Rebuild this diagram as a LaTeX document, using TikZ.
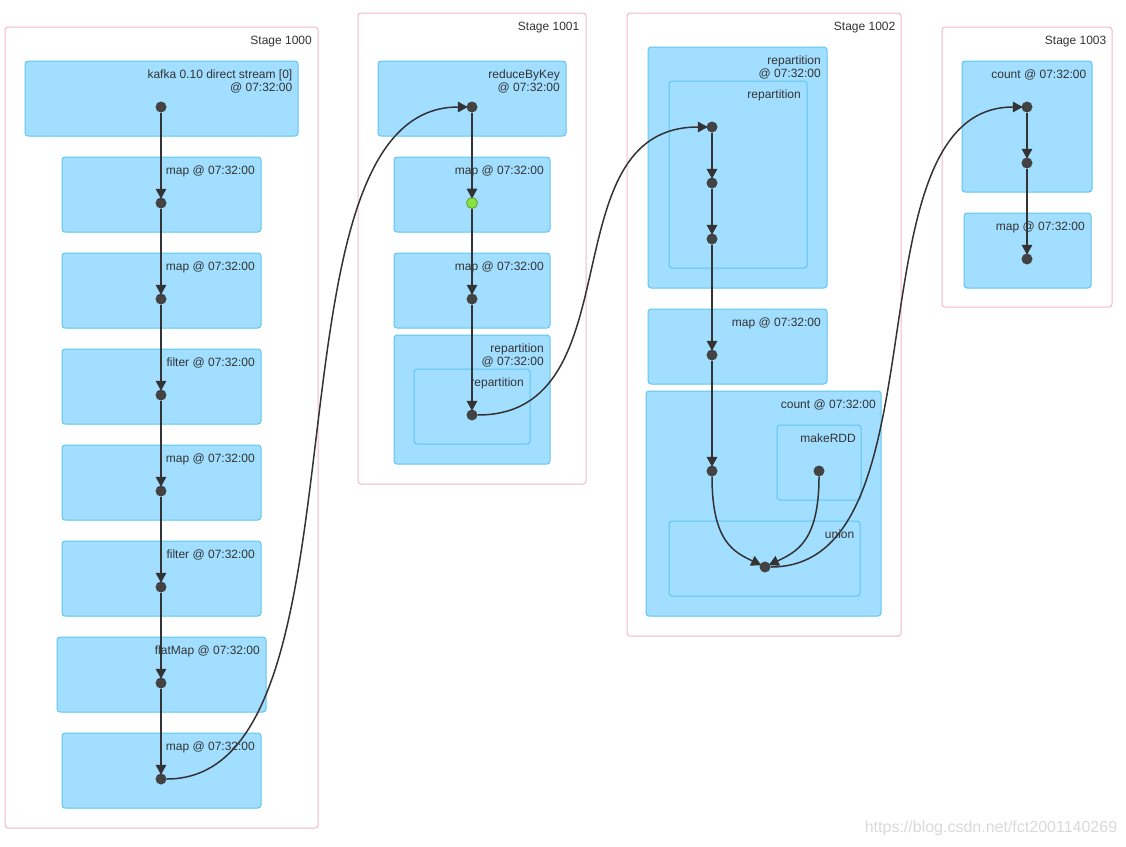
\documentclass[tikz,border=0pt]{standalone}
\usepackage{fontspec}
\setmainfont{Liberation Sans}
\usetikzlibrary{arrows.meta}
\definecolor{stagepink}{RGB}{242,184,206}
\definecolor{boxfill}{RGB}{161,222,255}
\definecolor{boxline}{RGB}{96,198,238}
\definecolor{ink}{RGB}{51,51,51}
\definecolor{dotgreen}{RGB}{138,226,66}
\begin{document}
\begin{tikzpicture}[x=1pt,y=-1pt,
    stagebox/.style={draw=stagepink, fill=white, line width=1pt, rounded corners=3pt},
    opbox/.style={draw=boxline, fill=boxfill, line width=1pt, rounded corners=3pt},
    lbl/.style={anchor=north east, inner sep=0pt, text=ink, align=right,
      font=\fontsize{12}{13}\selectfont},
    rdd/.style={circle, fill=ink!92!white, inner sep=0pt, minimum size=11pt},
    edge/.style={draw=ink, line width=1.5pt, shorten >=-1.5pt,
      -{Triangle[length=10pt,width=10.5pt]}}]
    \useasboundingbox (0,0) rectangle (1126,846);

    \draw[stagebox] (5,27) rectangle (318,828);
    \node (s0) at (312,36) [lbl] {Stage 1000};
    \draw[opbox] (25,61) rectangle (298,136); \node (l1) at (292.5,70) [lbl]
    {kafka 0.10 direct stream [0]\\@ 07:32:00};
    \draw[opbox] (62,157) rectangle (261,232); \node (l2) at (255,166) [lbl] {map @ 07:32:00};
    \draw[opbox] (62,253) rectangle (261,328); \node (l3) at (255,262) [lbl] {map @ 07:32:00};
    \draw[opbox] (62,349) rectangle (261,424); \node (l4) at (255,358) [lbl] {filter @ 07:32:00};
    \draw[opbox] (62,445) rectangle (261,520); \node (l5) at (255,454) [lbl] {map @ 07:32:00};
    \draw[opbox] (62,541) rectangle (261,616); \node (l6) at (255,550) [lbl] {filter @ 07:32:00};
    \draw[opbox] (57,637) rectangle (266,712); \node (l7) at (260,646) [lbl] {flatMap @ 07:32:00};
    \draw[opbox] (62,733) rectangle (261,808); \node (l8) at (255,742) [lbl] {map @ 07:32:00};

    \draw[stagebox] (358,13) rectangle (586,484);
    \node (s1) at (579.5,22) [lbl] {Stage 1001};
    \draw[opbox] (378,61) rectangle (566,136); \node (m1) at (560,70) [lbl]
    {reduceByKey\\@ 07:32:00};
    \draw[opbox] (394,157) rectangle (550,232); \node (m2) at (544,166) [lbl] {map @ 07:32:00};
    \draw[opbox] (394,253) rectangle (550,328); \node (m3) at (544,262) [lbl] {map @ 07:32:00};
    \draw[opbox] (394,335) rectangle (550,464); \node (m4) at (544,344) [lbl]
    {repartition\\@ 07:32:00};
    \draw[opbox] (414,369) rectangle (530,444); \node (m5) at (524,378) [lbl] {repartition};

    \draw[stagebox] (627,13) rectangle (901,636);
    \node (s2) at (895.5,22) [lbl] {Stage 1002};
    \draw[opbox] (648,47) rectangle (827,288); \node (n1) at (821,56) [lbl]
    {repartition\\@ 07:32:00};
    \draw[opbox] (669,81) rectangle (807,268); \node (n2) at (801,90) [lbl] {repartition};
    \draw[opbox] (648,309) rectangle (827,384); \node (n3) at (821,318) [lbl] {map @ 07:32:00};
    \draw[opbox] (646,391) rectangle (881,616); \node (n4) at (876,400) [lbl] {count @ 07:32:00};
    \draw[opbox] (777,425) rectangle (861,500); \node (n5) at (856,434) [lbl] {makeRDD};
    \draw[opbox] (669,521) rectangle (860,596); \node (n6) at (854.5,530) [lbl] {union};

    \draw[stagebox] (942,27) rectangle (1112,307);
    \node (s3) at (1106.5,36) [lbl] {Stage 1003};
    \draw[opbox] (962,61) rectangle (1092,192); \node (p1) at (1086.5,70) [lbl] {count @ 07:32:00};
    \draw[opbox] (964,213) rectangle (1091,288); \node (p2) at (1085,222) [lbl] {map @ 07:32:00};

    \node (a1) at (161,107) [rdd] {}; \node (a2) at (161,203) [rdd] {};
    \node (a3) at (161,299) [rdd] {}; \node (a4) at (161,395) [rdd] {};
    \node (a5) at (161,491) [rdd] {}; \node (a6) at (161,587) [rdd] {};
    \node (a7) at (161,683) [rdd] {}; \node (a8) at (161,779) [rdd] {};
    \node (b1) at (472,107) [rdd] {};
    \node (b2) at (472,203) [rdd, fill=dotgreen, draw=dotgreen!70!black, line width=.8pt] {};
    \node (b3) at (472,299) [rdd] {}; \node (b4) at (472,415) [rdd] {};
    \node (c1) at (712,127) [rdd] {}; \node (c2) at (712,183) [rdd] {};
    \node (c3) at (712,239) [rdd] {}; \node (c4) at (712,355) [rdd] {};
    \node (c5) at (712,471) [rdd] {}; \node (c6) at (819,471) [rdd] {};
    \node (c7) at (765,567) [rdd] {};
    \node (d1) at (1027,107) [rdd] {}; \node (d2) at (1027,163) [rdd] {};
    \node (d3) at (1027,259) [rdd] {};

    \draw[edge] (a1) -- (a2); \draw[edge] (a2) -- (a3); \draw[edge] (a3) -- (a4);
    \draw[edge] (a4) -- (a5); \draw[edge] (a5) -- (a6); \draw[edge] (a6) -- (a7);
    \draw[edge] (a7) -- (a8);
    \draw[edge] (a8) .. controls (381,779) and (252,107) .. (b1);
    \draw[edge] (b1) -- (b2); \draw[edge] (b2) -- (b3); \draw[edge] (b3) -- (b4);
    \draw[edge] (b4) .. controls (637,415) and (547,127) .. (c1);
    \draw[edge] (c1) -- (c2); \draw[edge] (c2) -- (c3); \draw[edge] (c3) -- (c4);
    \draw[edge] (c4) -- (c5);
    \draw[edge] (c5) .. controls (712,542) and (734,552) .. (c7);
    \draw[edge] (c6) .. controls (819,542) and (796,552) .. (c7);
    \draw[edge] (c7) .. controls (950,567) and (845,107) .. (d1);
    \draw[edge] (d1) -- (d2); \draw[edge] (d2) -- (d3);

    \node (wm) at (991,828) [text=black!15, font=\fontsize{16}{16}\selectfont]
    {https://blog.csdn.net/fct2001140269};
\end{tikzpicture}
\end{document}
